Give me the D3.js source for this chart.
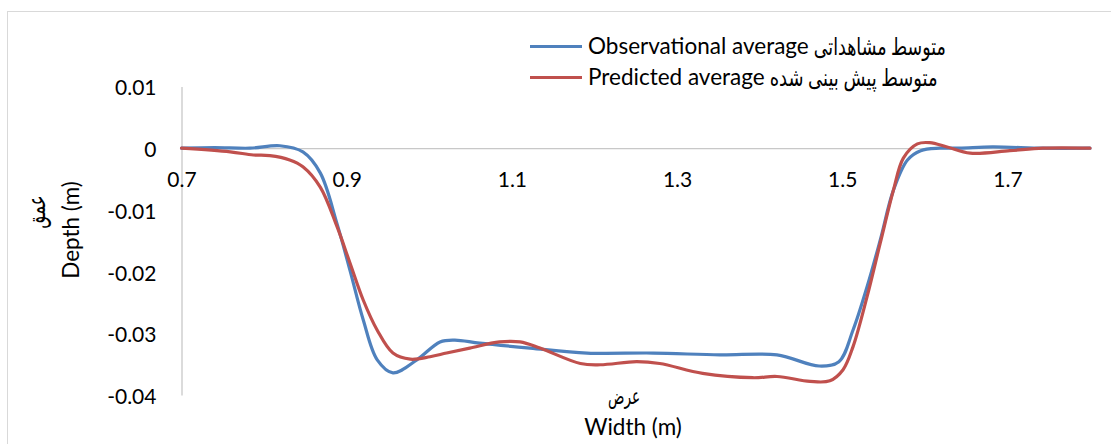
<!DOCTYPE html>
<html>
<head>
<meta charset="utf-8">
<script src="https://cdn.jsdelivr.net/npm/d3@7"></script>
<style>
  html, body { margin: 0; padding: 0; background: #fff; }
  svg { display: block; }
  text { font-family: Lato, "DejaVu Sans", sans-serif; fill: #000; }
</style>
</head>
<body>
<svg id="chart" width="1111" height="444"></svg>
<script>
// Cross-section profile: observed vs predicted average depth across the channel width
const widthObs = [0.70, 0.74, 0.783, 0.819, 0.847, 0.868, 0.888, 0.904, 0.920, 0.937, 0.956, 0.985,
  1.013, 1.031, 1.061, 1.122, 1.191, 1.271, 1.352, 1.421, 1.472, 1.496, 1.513, 1.530, 1.546,
  1.562, 1.579, 1.595, 1.618, 1.642, 1.682, 1.743, 1.80];
const depthObs = [0, 0.0001, 0, 0.0004, -0.0006, -0.0040, -0.0121, -0.0198, -0.0278, -0.0343, -0.0364, -0.0343,
  -0.0314, -0.0311, -0.0316, -0.0324, -0.0332, -0.0332, -0.0335, -0.0335, -0.0353, -0.0346, -0.0295, -0.0225, -0.0149,
  -0.0068, -0.0019, -0.0004, 0, 0, 0.0002, 0, 0];

const widthPred = [0.70, 0.759, 0.787, 0.807, 0.831, 0.847, 0.868, 0.888, 0.904, 0.920, 0.937, 0.956, 0.977,
  1.001, 1.021, 1.049, 1.085, 1.110, 1.134, 1.183, 1.207, 1.251, 1.279, 1.331, 1.392, 1.421, 1.461,
  1.485, 1.501, 1.513, 1.530, 1.546, 1.562, 1.574, 1.591, 1.606, 1.627, 1.655, 1.703, 1.743, 1.80];
const depthPred = [0, -0.0006, -0.0011, -0.0012, -0.0019, -0.0030, -0.0063, -0.0126, -0.0186, -0.0246, -0.0295, -0.0332, -0.0342,
  -0.0338, -0.0332, -0.0324, -0.0314, -0.0314, -0.0324, -0.0349, -0.0351, -0.0346, -0.0349, -0.0365, -0.0372, -0.0370, -0.0378,
  -0.0377, -0.0359, -0.0322, -0.0241, -0.0154, -0.0068, -0.0016, 0.0007, 0.0009, 0.0002, -0.0008, -0.0004, 0, 0];

const xTicks = [0.7, 0.9, 1.1, 1.3, 1.5, 1.7];
const yTicks = [0.01, 0, -0.01, -0.02, -0.03, -0.04];

// legend entries: English name followed by its Persian name
const seriesNamesEn = ["Observational average", "Predicted average"];
const seriesNamesFa = ["متوسط مشاهداتی", "متوسط پیش بینی شده"];
const seriesColors = ["#4F81BD", "#C0504D"];

const tickFont = 21;
const titleFont = 22.5;
const faFont = 24;

const svg = d3.select("#chart");

// chart area frame
svg.append("rect")
  .attr("x", 7.5).attr("y", 11.5)
  .attr("width", 1120).attr("height", 450)
  .attr("fill", "none").attr("stroke", "#d9d9d9").attr("stroke-width", 1);

const x = d3.scaleLinear().domain([0.7, 1.8]).range([181.5, 1090]);
const y = d3.scaleLinear().domain([-0.04, 0.01]).range([395, 86.5]);

const fmt = d => d === 0 ? "0" : String(+d.toFixed(2));

// y axis
const gy = svg.append("g")
  .attr("transform", `translate(${x(0.7)},0)`)
  .call(d3.axisLeft(y).tickValues(yTicks).tickFormat(fmt).tickSize(0).tickPadding(25));
gy.select(".domain").attr("stroke", "#c8c8c8").attr("stroke-width", 1.3);
gy.selectAll("text").attr("font-size", tickFont).attr("font-family", "Lato, 'DejaVu Sans', sans-serif")
  .attr("dy", "0.4em");

// x axis on the zero line
const gx = svg.append("g")
  .attr("transform", `translate(0,${y(0)})`)
  .call(d3.axisBottom(x).tickValues(xTicks).tickFormat(d => d.toFixed(1)).tickSize(0).tickSizeOuter(0));
gx.select(".domain").attr("stroke", "#c8c8c8").attr("stroke-width", 1.3);
gx.selectAll("text").attr("font-size", tickFont).attr("font-family", "Lato, 'DejaVu Sans', sans-serif")
  .attr("y", 31).attr("dy", "0.36em");

// series lines
const line = d3.line()
  .x(d => x(d[0])).y(d => y(d[1]))
  .curve(d3.curveCatmullRom.alpha(0.5));

const series = [
  d3.zip(widthObs, depthObs),
  d3.zip(widthPred, depthPred)
];

series.forEach((pts, i) => {
  svg.append("path")
    .datum(pts)
    .attr("d", line)
    .attr("fill", "none")
    .attr("stroke", seriesColors[i])
    .attr("stroke-width", 3.2)
    .attr("stroke-linejoin", "round")
    .attr("stroke-linecap", "round");
});

// legend
const legend = svg.append("g");
const faWidths = [132, 168];
seriesNamesEn.forEach((name, i) => {
  const ly = 46.5 + i * 31;
  legend.append("line")
    .attr("x1", 530).attr("x2", 582).attr("y1", ly).attr("y2", ly)
    .attr("stroke", seriesColors[i]).attr("stroke-width", 3.2);
  const en = legend.append("text")
    .attr("x", 588).attr("y", ly).attr("dy", "0.35em")
    .attr("font-size", titleFont)
    .text(name);
  const enLen = en.node().getComputedTextLength();
  legend.append("text")
    .attr("x", 588 + enLen + 5).attr("y", ly).attr("dy", "0.35em")
    .attr("font-size", faFont)
    .attr("textLength", faWidths[i]).attr("lengthAdjust", "spacingAndGlyphs")
    .text(seriesNamesFa[i]);
});

// axis titles
const yTitle = svg.append("g").attr("transform", "rotate(-90)");
yTitle.append("text")
  .attr("x", -212).attr("y", 37).attr("dy", "0.35em")
  .attr("text-anchor", "middle").attr("font-size", 24)
  .attr("textLength", 33).attr("lengthAdjust", "spacingAndGlyphs")
  .text("عمق");
yTitle.append("text")
  .attr("x", -230).attr("y", 71).attr("dy", "0.35em")
  .attr("text-anchor", "middle").attr("font-size", titleFont)
  .text("Depth (m)");

svg.append("text")
  .attr("x", 624).attr("y", 396).attr("dy", "0.35em")
  .attr("text-anchor", "middle").attr("font-size", 22)
  .attr("textLength", 32).attr("lengthAdjust", "spacingAndGlyphs")
  .text("عرض");
svg.append("text")
  .attr("x", 633).attr("y", 427).attr("dy", "0.35em")
  .attr("text-anchor", "middle").attr("font-size", titleFont)
  .text("Width (m)");
</script>
</body>
</html>
